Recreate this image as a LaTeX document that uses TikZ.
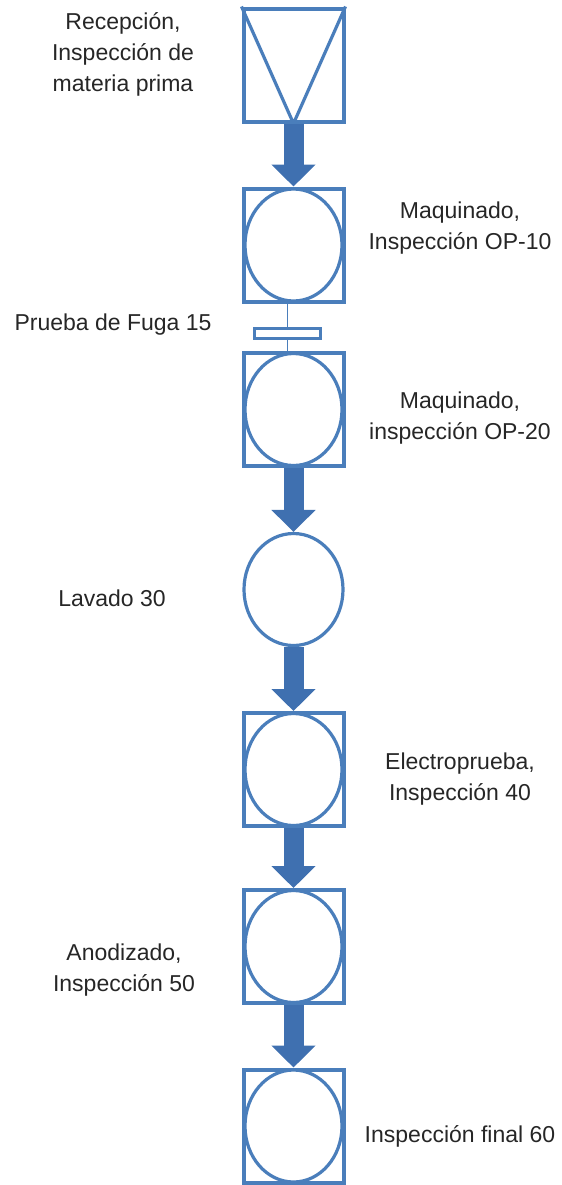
\documentclass[tikz,border=0pt]{standalone}
\usepackage{fontspec}
\setmainfont{Liberation Sans}
\usetikzlibrary{arrows.meta,shapes.geometric}
\definecolor{flow}{HTML}{4a7ebb}
\definecolor{flowdark}{HTML}{3f70b0}

\begin{document}
\begin{tikzpicture}[x=0.5pt,y=-0.5pt,
  opbox/.style={draw=flow,line width=2pt,minimum width=50pt,minimum height=56.5pt,inner sep=0pt},
  opcirc/.style={ellipse,draw=flow,line width=1.6pt,fill=white,minimum width=48.5pt,minimum height=56pt,inner sep=0pt},
  flowarrow/.style={draw=flowdark,line width=10pt,-{Triangle[width=21.5pt,length=11pt]}},
  optext/.style={font=\fontsize{11.5}{15.5}\selectfont,align=center,text=black!85}]
  \useasboundingbox (0,0) rectangle (562,1185);
  % reception / storage
  \node[opbox] (b1) at (293.5,65) {};
  \draw[flow,line width=1.6pt] (b1.north west) -- (b1.south) -- (b1.north east);
  % operations
  \node[opbox] (b2) at (293.5,245) {};
  \node[opcirc] (c2) at (b2) {};
  \node[opbox] (b3) at (293.5,409.5) {};
  \node[opcirc] (c3) at (b3) {};
  \node[opcirc,minimum width=49.5pt] (c4) at (293.5,589.5) {};
  \node[opbox] (b5) at (293.5,769.5) {};
  \node[opcirc] (c5) at (b5) {};
  \node[opbox] (b6) at (293.5,946.5) {};
  \node[opcirc] (c6) at (b6) {};
  \node[opbox] (b7) at (293.5,1126) {};
  \node[opcirc] (c7) at (b7) {};
  % leak test
  \node[draw=flow,line width=1.5pt,minimum width=33pt,minimum height=5pt,inner sep=0pt] (leak) at (287.5,333.5) {};
  \draw[flow,line width=0.8pt] (leak.north) -- (leak.north |- b2.south);
  \draw[flow,line width=0.8pt] (leak.south) -- (leak.south |- b3.north);
  % flow arrows
  \draw[flowarrow] (b1.south) -- (b2.north);
  \draw[flowarrow] (b3.south) -- (c4.north);
  \draw[flowarrow] (c4.south) -- (b5.north);
  \draw[flowarrow] (b5.south) -- (b6.north);
  \draw[flowarrow] (b6.south) -- (b7.north);
  % labels
  \node[optext] (t1) at (123,54) {Recepción,\\Inspección de\\materia prima};
  \node[optext] (t2) at (460,228) {Maquinado,\\Inspección OP-10};
  \node[optext] (tleak) at (113,325) {Prueba de Fuga 15};
  \node[optext] (t3) at (460,418) {Maquinado,\\inspección OP-20};
  \node[optext] (t4) at (112,598) {Lavado 30};
  \node[optext] (t5) at (460,779) {Electroprueba,\\Inspección 40};
  \node[optext] (t6) at (124,970) {Anodizado,\\Inspección 50};
  \node[optext] (t7) at (460,1136) {Inspección final 60};
\end{tikzpicture}
\end{document}
